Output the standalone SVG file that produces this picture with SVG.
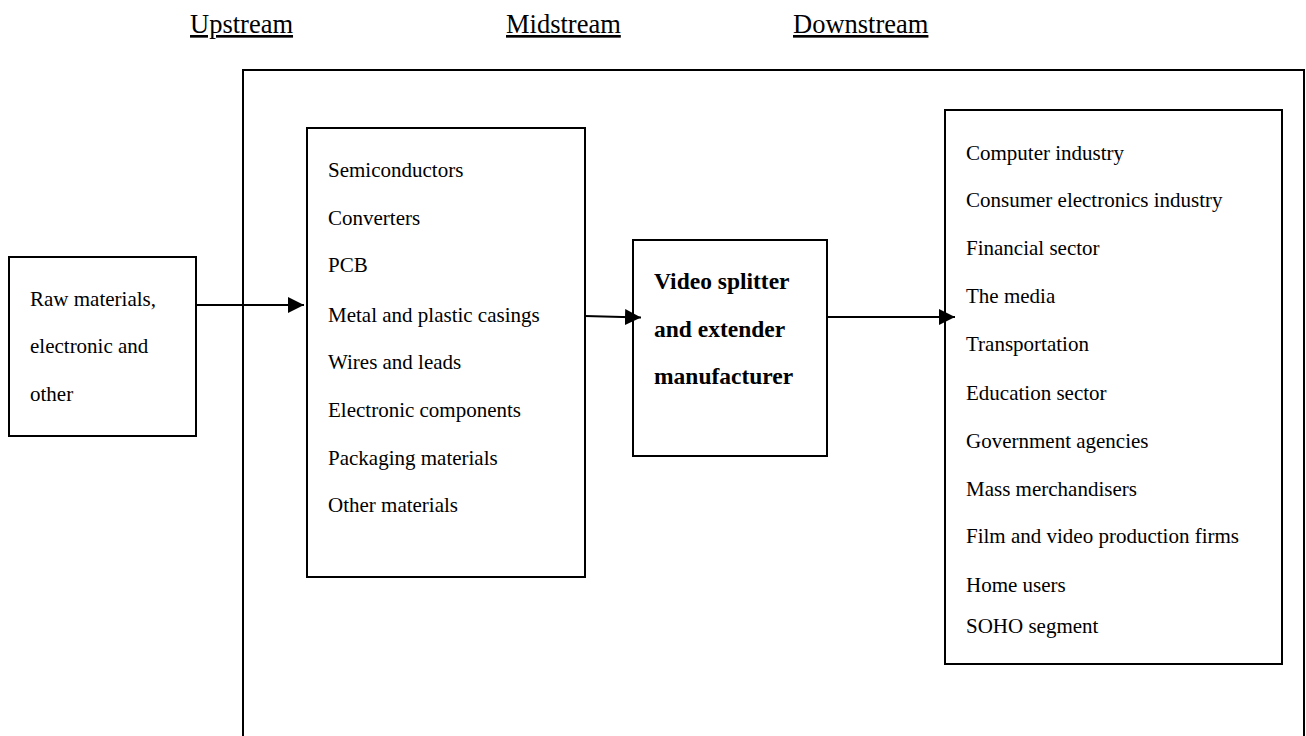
<svg xmlns="http://www.w3.org/2000/svg" width="1306" height="736" viewBox="0 0 1306 736">
<style>
  .box { fill: #ffffff; stroke: #000000; stroke-width: 2; }
  .t { font-family: "Liberation Serif", "Times New Roman", serif; font-size: 21px; fill: #000000; }
  .b { font-family: "Liberation Serif", "Times New Roman", serif; font-size: 23.5px; font-weight: bold; fill: #000000; }
  .h { font-family: "Liberation Serif", "Times New Roman", serif; font-size: 26.5px; fill: #000000; text-decoration: underline; }
  .edge { fill: none; stroke: #000000; stroke-width: 2; marker-end: url(#arrow); }
</style>
<defs>
  <marker id="arrow" markerUnits="userSpaceOnUse" markerWidth="16" markerHeight="16" refX="16" refY="8" orient="auto">
    <path d="M0,0 L16,8 L0,16 Z" fill="#000000"/>
  </marker>
</defs>
<rect width="1306" height="736" fill="#ffffff"/>
<g id="headers">
  <text class="h" x="190" y="33">Upstream</text>
  <text class="h" x="506" y="33">Midstream</text>
  <text class="h" x="793" y="33">Downstream</text>
</g>
<g id="frame">
  <rect class="box" x="243" y="70" width="1061" height="700"/>
</g>
<g id="raw">
  <rect class="box" x="9" y="257" width="187" height="179"/>
  <text class="t" x="30" y="306">Raw materials,</text>
  <text class="t" x="30" y="353">electronic and</text>
  <text class="t" x="30" y="401">other</text>
</g>
<g id="inputs">
  <rect class="box" x="307" y="128" width="278" height="449"/>
  <text class="t" x="328" y="177">Semiconductors</text>
  <text class="t" x="328" y="225">Converters</text>
  <text class="t" x="328" y="272">PCB</text>
  <text class="t" x="328" y="322">Metal and plastic casings</text>
  <text class="t" x="328" y="369">Wires and leads</text>
  <text class="t" x="328" y="417">Electronic components</text>
  <text class="t" x="328" y="465">Packaging materials</text>
  <text class="t" x="328" y="512">Other materials</text>
</g>
<g id="manufacturer">
  <rect class="box" x="633" y="240" width="194" height="216"/>
  <text class="b" x="654" y="289">Video splitter</text>
  <text class="b" x="654" y="337">and extender</text>
  <text class="b" x="654" y="384">manufacturer</text>
</g>
<g id="users">
  <rect class="box" x="945" y="110" width="337" height="554"/>
  <text class="t" x="966" y="160">Computer industry</text>
  <text class="t" x="966" y="207">Consumer electronics industry</text>
  <text class="t" x="966" y="255">Financial sector</text>
  <text class="t" x="966" y="303">The media</text>
  <text class="t" x="966" y="351">Transportation</text>
  <text class="t" x="966" y="400">Education sector</text>
  <text class="t" x="966" y="448">Government agencies</text>
  <text class="t" x="966" y="496">Mass merchandisers</text>
  <text class="t" x="966" y="543">Film and video production firms</text>
  <text class="t" x="966" y="592">Home users</text>
  <text class="t" x="966" y="633">SOHO segment</text>
</g>
<g id="connectors">
  <path class="edge" d="M196,305 L304,305"/>
  <path class="edge" d="M585,316 L641,317.5"/>
  <path class="edge" d="M827,317 L955,317"/>
</g>
</svg>
